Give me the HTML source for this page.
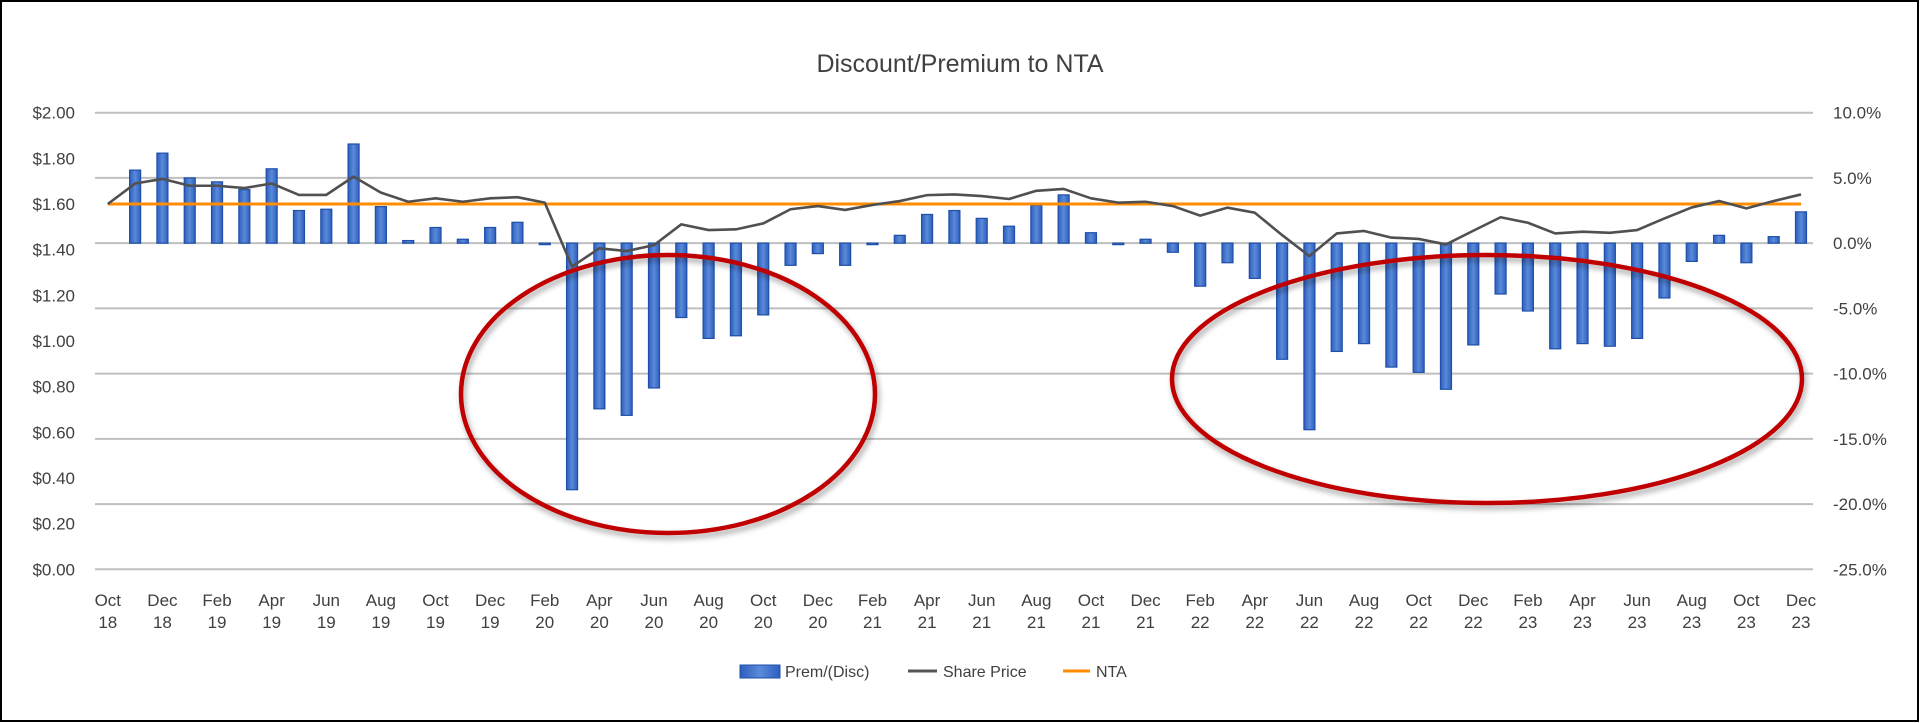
<!DOCTYPE html>
<html><head><meta charset="utf-8"><style>
html,body{margin:0;padding:0;background:#fff;}
#wrap{position:relative;width:1920px;height:723px;overflow:hidden;font-family:"Liberation Sans",sans-serif;}
</style></head><body>
<div id="wrap">
<svg id="chart" width="1920" height="723" viewBox="0 0 1920 723" xmlns="http://www.w3.org/2000/svg">
<defs>
<linearGradient id="barg" x1="0" x2="1" y1="0" y2="0">
<stop offset="0" stop-color="#2e5fbf"/><stop offset="0.5" stop-color="#5a8ad8"/><stop offset="1" stop-color="#2e5fbf"/>
</linearGradient>
<filter id="sh" x="-10%" y="-10%" width="120%" height="130%"><feDropShadow dx="2" dy="4" stdDeviation="3" flood-color="#000" flood-opacity="0.35"/></filter>
</defs>
<rect x="1" y="1" width="1917" height="720" fill="#fff" stroke="#000" stroke-width="2"/>
<text x="960" y="72" font-size="25" text-anchor="middle" fill="#404040">Discount/Premium  to NTA</text>
<g id="grid"></g><g id="bars"></g><g id="lines"></g><g id="axes"></g><g id="ellipses"></g>
<g id="legend">
<rect x="740" y="665" width="40" height="13" fill="url(#barg)" stroke="#1f4fa8"/>
<text x="785" y="677" font-size="16" fill="#404040">Prem/(Disc)</text>
<line x1="908" y1="671" x2="937" y2="671" stroke="#555" stroke-width="3"/>
<text x="943" y="677" font-size="16" fill="#404040">Share Price</text>
<line x1="1063" y1="671" x2="1090" y2="671" stroke="#ff8c00" stroke-width="3"/>
<text x="1096" y="677" font-size="16" fill="#404040">NTA</text>
</g>
</svg>
</div>
<script>
const xLabelsTop = ["Oct","Dec","Feb","Apr","Jun","Aug","Oct","Dec","Feb","Apr","Jun","Aug","Oct","Dec","Feb","Apr","Jun","Aug","Oct","Dec","Feb","Apr","Jun","Aug","Oct","Dec","Feb","Apr","Jun","Aug","Oct","Dec"];
const xLabelsBottom = ["18","18","19","19","19","19","19","19","20","20","20","20","20","20","21","21","21","21","21","21","22","22","22","22","22","22","23","23","23","23","23","23"];
const premDisc = [0,5.6,6.9,5.0,4.7,4.1,5.7,2.5,2.6,7.6,2.8,0.2,1.2,0.3,1.2,1.6,-0.1,-18.9,-12.7,-13.2,-11.1,-5.7,-7.3,-7.1,-5.5,-1.7,-0.8,-1.7,-0.1,0.6,2.2,2.5,1.9,1.3,2.9,3.7,0.8,-0.1,0.3,-0.7,-3.3,-1.5,-2.7,-8.9,-14.3,-8.3,-7.7,-9.5,-9.9,-11.2,-7.8,-3.9,-5.2,-8.1,-7.7,-7.9,-7.3,-4.2,-1.4,0.6,-1.5,0.5,2.4];
const sharePrice = [1.60,1.69,1.71,1.68,1.68,1.67,1.69,1.64,1.64,1.72,1.65,1.61,1.625,1.61,1.625,1.63,1.606,1.326,1.406,1.394,1.42,1.511,1.486,1.489,1.515,1.577,1.591,1.574,1.596,1.613,1.639,1.642,1.635,1.622,1.658,1.666,1.625,1.606,1.61,1.591,1.549,1.584,1.562,1.464,1.372,1.471,1.482,1.453,1.447,1.423,1.483,1.542,1.518,1.471,1.479,1.474,1.486,1.537,1.585,1.613,1.581,1.613,1.642];
const ntaValue = 1.60;
const leftTicks = ["$0.00","$0.20","$0.40","$0.60","$0.80","$1.00","$1.20","$1.40","$1.60","$1.80","$2.00"];
const rightTicks = ["-25.0%","-20.0%","-15.0%","-10.0%","-5.0%","0.0%","5.0%","10.0%"];

const NS="http://www.w3.org/2000/svg";
const TOP=112.7, BOT=569.3, X0=107.8, X1=1801, GL=95, GR=1813;
const n=premDisc.length;
function xPos(i){return X0+(X1-X0)*i/(n-1);}
function yL(v){return BOT-(BOT-TOP)*v/2.0;}
function yR(p){return BOT-(BOT-TOP)*(p+25)/35;}
function mk(tag,attrs,parent){const e=document.createElementNS(NS,tag);for(const k in attrs)e.setAttribute(k,attrs[k]);parent.appendChild(e);return e;}
const grid=document.getElementById('grid'),bars=document.getElementById('bars'),lines=document.getElementById('lines'),axes=document.getElementById('axes'),ell=document.getElementById('ellipses');

rightTicks.forEach((t,k)=>{
  const y=yR(-25+5*k);
  const g=mk('line',{x1:GL,x2:GR,y1:y,y2:y,stroke:'#bfbfbf','stroke-width':2},grid);
  
  
  const tx=mk('text',{x:1833,y:y+6,'font-size':17,fill:'#404040'},axes);
  tx.textContent=t;
  
  
});
leftTicks.forEach((t,k)=>{
  const y=yL(0.2*k);
  const tx=mk('text',{x:75,y:y+6,'font-size':17,fill:'#404040','text-anchor':'end'},axes);
  tx.textContent=t;
  
  
});
xLabelsTop.forEach((t,k)=>{
  const x=xPos(2*k);
  const a=mk('text',{x:x,y:606,'font-size':17,fill:'#404040','text-anchor':'middle'},axes);
  a.textContent=t;
  
  
  const b=mk('text',{x:x,y:628,'font-size':17,fill:'#404040','text-anchor':'middle'},axes);
  b.textContent=xLabelsBottom[k];
  
  
});
const y0=yR(0);
premDisc.forEach((v,i)=>{
  if(v===0)return;
  const y=yR(v);
  const r=mk('rect',{x:xPos(i)-5.5,y:Math.min(y,y0),width:11,height:Math.max(1.5,Math.abs(y-y0)),fill:'url(#barg)',stroke:'#1f4fa8','stroke-width':1.2},bars);
  
  
});
const nta=mk('line',{x1:xPos(0),x2:xPos(n-1),y1:yL(ntaValue),y2:yL(ntaValue),stroke:'#ff8c00','stroke-width':3},lines);


const sp=mk('polyline',{points:sharePrice.map((v,i)=>xPos(i)+','+yL(v)).join(' '),fill:'none',stroke:'#505050','stroke-width':2.6,'stroke-linejoin':'round'},lines);


const e1=mk('ellipse',{cx:668,cy:394,rx:207,ry:139,fill:'none',stroke:'#c00000','stroke-width':4.5,filter:'url(#sh)'},ell);


const e2=mk('ellipse',{cx:1487,cy:379,rx:315,ry:124,fill:'none',stroke:'#c00000','stroke-width':4.5,filter:'url(#sh)'},ell);


</script>
</body></html>
